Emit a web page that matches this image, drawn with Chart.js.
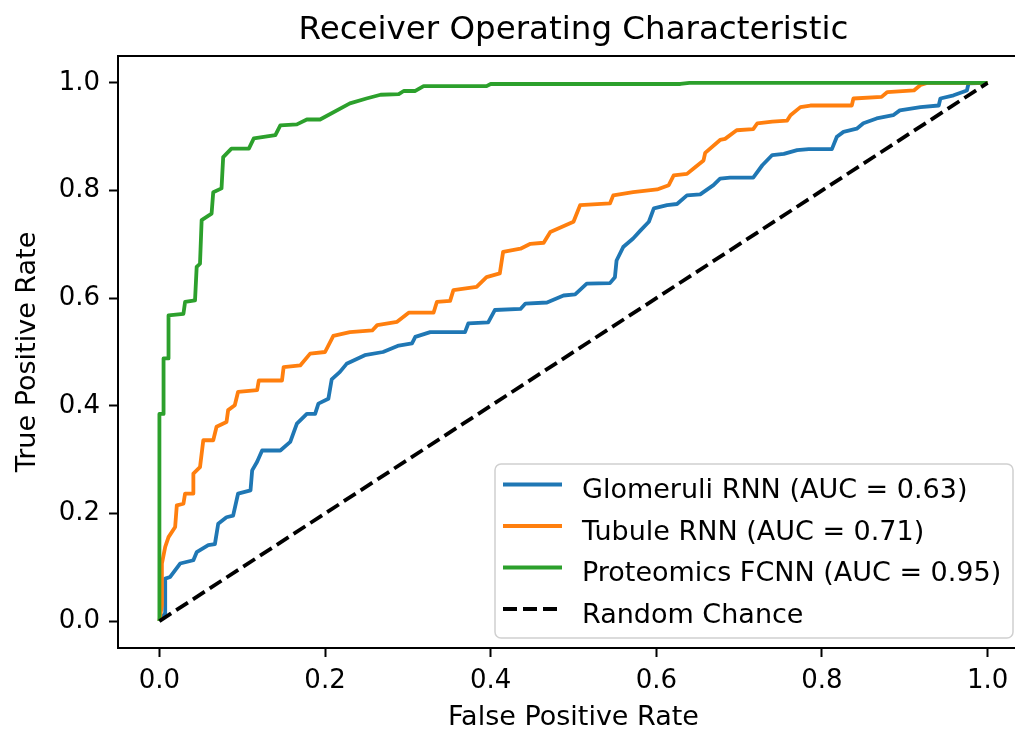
<!DOCTYPE html>
<html>
<head>
<meta charset="utf-8">
<title>Receiver Operating Characteristic</title>
<script src="https://cdn.jsdelivr.net/npm/chart.js@4.4.1/dist/chart.umd.min.js"></script>
<style>
    html, body { margin: 0; padding: 0; background: #fff; overflow: hidden; width: 1015px; height: 729px; }
    #wrap { position: absolute; left: 0; top: 0; width: 1015px; height: 729px; overflow: hidden; }
    canvas { display: block; }
</style>
</head>
<body>
<div id="wrap"><canvas id="chart" width="1146" height="729"></canvas></div>
<script>
// tick labels
const xTicks = [0, 0.2, 0.4, 0.6, 0.8, 1.0];
const yTicks = [0, 0.2, 0.4, 0.6, 0.8, 1.0];

const seriesNames = [
    'Glomeruli RNN (AUC = 0.63)',
    'Tubule RNN (AUC = 0.71)',
    'Proteomics FCNN (AUC = 0.95)',
    'Random Chance'
];

// Glomeruli RNN
const glomFpr = [0, 0.007, 0.007, 0.013, 0.025, 0.041, 0.045, 0.059, 0.067, 0.071, 0.081, 0.089, 0.095, 0.110, 0.112, 0.118, 0.124, 0.146, 0.158, 0.166, 0.178, 0.188, 0.192, 0.204, 0.208, 0.218, 0.226, 0.248, 0.270, 0.289, 0.305, 0.309, 0.327, 0.369, 0.373, 0.397, 0.405, 0.436, 0.442, 0.468, 0.488, 0.502, 0.516, 0.544, 0.550, 0.552, 0.560, 0.572, 0.581, 0.591, 0.597, 0.613, 0.625, 0.637, 0.653, 0.669, 0.677, 0.689, 0.717, 0.728, 0.740, 0.754, 0.770, 0.784, 0.812, 0.818, 0.826, 0.842, 0.850, 0.866, 0.886, 0.894, 0.919, 0.941, 0.943, 0.959, 0.975, 0.977, 1.0];
const glomTpr = [0, 0.015, 0.079, 0.082, 0.107, 0.113, 0.128, 0.141, 0.143, 0.181, 0.193, 0.196, 0.237, 0.243, 0.280, 0.296, 0.317, 0.317, 0.333, 0.367, 0.385, 0.385, 0.404, 0.413, 0.449, 0.463, 0.478, 0.494, 0.500, 0.512, 0.516, 0.528, 0.537, 0.537, 0.553, 0.555, 0.578, 0.580, 0.590, 0.592, 0.605, 0.607, 0.627, 0.628, 0.639, 0.670, 0.695, 0.711, 0.726, 0.742, 0.767, 0.773, 0.775, 0.791, 0.793, 0.810, 0.822, 0.824, 0.824, 0.847, 0.866, 0.868, 0.875, 0.877, 0.877, 0.900, 0.909, 0.915, 0.925, 0.934, 0.940, 0.949, 0.955, 0.958, 0.971, 0.977, 0.986, 0.999, 1.0];

// Tubule RNN
const tubFpr = [0, 0.003, 0.003, 0.007, 0.011, 0.019, 0.021, 0.029, 0.031, 0.041, 0.041, 0.049, 0.053, 0.065, 0.069, 0.081, 0.083, 0.091, 0.095, 0.118, 0.120, 0.148, 0.150, 0.170, 0.182, 0.200, 0.210, 0.230, 0.257, 0.263, 0.287, 0.301, 0.331, 0.335, 0.351, 0.355, 0.383, 0.395, 0.411, 0.415, 0.436, 0.448, 0.464, 0.472, 0.500, 0.508, 0.544, 0.548, 0.572, 0.601, 0.615, 0.621, 0.637, 0.645, 0.657, 0.659, 0.677, 0.683, 0.697, 0.717, 0.722, 0.740, 0.758, 0.762, 0.774, 0.786, 0.836, 0.838, 0.872, 0.879, 0.911, 0.919, 0.927, 1.0];
const tubTpr = [0, 0.03, 0.107, 0.138, 0.156, 0.175, 0.215, 0.218, 0.237, 0.237, 0.274, 0.286, 0.336, 0.336, 0.361, 0.370, 0.392, 0.401, 0.426, 0.429, 0.447, 0.447, 0.472, 0.475, 0.497, 0.500, 0.530, 0.537, 0.540, 0.550, 0.556, 0.573, 0.573, 0.593, 0.595, 0.615, 0.621, 0.639, 0.646, 0.686, 0.692, 0.701, 0.703, 0.723, 0.742, 0.773, 0.776, 0.791, 0.797, 0.802, 0.810, 0.828, 0.831, 0.841, 0.856, 0.870, 0.894, 0.896, 0.912, 0.914, 0.925, 0.928, 0.930, 0.940, 0.955, 0.958, 0.958, 0.971, 0.974, 0.983, 0.986, 0.996, 1.0, 1.0];

// Proteomics FCNN
const protFpr = [0, 0, 0.005, 0.005, 0.011, 0.011, 0.029, 0.031, 0.043, 0.045, 0.049, 0.051, 0.063, 0.065, 0.075, 0.077, 0.087, 0.108, 0.114, 0.140, 0.146, 0.166, 0.178, 0.194, 0.230, 0.250, 0.267, 0.289, 0.295, 0.309, 0.319, 0.395, 0.400, 0.629, 0.640, 1.0];
const protTpr = [0, 0.385, 0.385, 0.488, 0.488, 0.568, 0.571, 0.593, 0.596, 0.658, 0.664, 0.745, 0.757, 0.797, 0.804, 0.862, 0.878, 0.878, 0.897, 0.903, 0.921, 0.923, 0.932, 0.932, 0.962, 0.971, 0.978, 0.979, 0.985, 0.985, 0.994, 0.994, 0.998, 0.998, 1.0, 1.0];

// Random Chance
const chanceFpr = [0, 1];
const chanceTpr = [0, 1];

const toPoints = (xs, ys) => xs.map((x, i) => ({ x: x, y: ys[i] }));

const FONT = 'DejaVu Sans';

// left/top/bottom spines + legend box in the lower right, like matplotlib
// (the right spine lies outside the cropped picture)
const frameAndLegend = {
    id: 'frameAndLegend',
    afterDatasetsDraw(chart) {
        const ctx = chart.ctx;
        const a = chart.chartArea;
        ctx.save();
        ctx.strokeStyle = '#000';
        ctx.lineWidth = 2;
        ctx.beginPath();
        ctx.moveTo(a.right + 1, a.top);
        ctx.lineTo(a.left, a.top);
        ctx.lineTo(a.left, a.bottom);
        ctx.lineTo(a.right + 1, a.bottom);
        ctx.stroke();

        const w = 518, h = 174;
        const bx = a.right - 16 - w;
        const by = a.bottom - 10 - h;
        ctx.beginPath();
        ctx.roundRect(bx, by, w, h, 6);
        ctx.fillStyle = 'rgba(255,255,255,0.8)';
        ctx.fill();
        ctx.strokeStyle = '#d0d0d0';
        ctx.lineWidth = 1.5;
        ctx.stroke();

        chart.data.datasets.forEach((ds, i) => {
            const base = by + 34 + i * 41.5;
            const hy = base - 13.5;
            ctx.beginPath();
            ctx.setLineDash(ds.borderDash || []);
            ctx.lineWidth = ds.borderWidth;
            ctx.strokeStyle = ds.borderColor;
            ctx.lineCap = 'butt';
            ctx.moveTo(bx + 8, hy);
            ctx.lineTo(bx + 67, hy);
            ctx.stroke();
            ctx.setLineDash([]);
            ctx.fillStyle = '#000';
            ctx.font = '27px "' + FONT + '"';
            ctx.textBaseline = 'alphabetic';
            ctx.textAlign = 'left';
            ctx.fillText(ds.label, bx + 87, base);
        });
        ctx.restore();
    }
};

const lineStyle = {
    showLine: true,
    pointRadius: 0,
    borderWidth: 3.8,
    tension: 0,
    fill: false,
    borderJoinStyle: 'round'
};

const ctx = document.getElementById('chart');
const chart = new Chart(ctx, {
    type: 'scatter',
    data: {
        datasets: [
            Object.assign({ label: seriesNames[0], data: toPoints(glomFpr, glomTpr), borderColor: '#1f77b4', order: 4 }, lineStyle),
            Object.assign({ label: seriesNames[1], data: toPoints(tubFpr, tubTpr), borderColor: '#ff7f0e', order: 3 }, lineStyle),
            Object.assign({ label: seriesNames[2], data: toPoints(protFpr, protTpr), borderColor: '#2ca02c', order: 2 }, lineStyle),
            Object.assign({ label: seriesNames[3], data: toPoints(chanceFpr, chanceTpr), borderColor: '#000000', borderDash: [14, 6], order: 1 }, lineStyle)
        ]
    },
    options: {
        responsive: false,
        animation: false,
        devicePixelRatio: 1,
        // the canvas is wider than the window: the right spine falls outside the picture
        layout: { padding: { left: 0, right: 117, top: 0, bottom: 0 } },
        plugins: {
            legend: { display: false },
            tooltip: { enabled: false },
            title: {
                display: true,
                fullSize: false,
                text: 'Receiver Operating Characteristic',
                color: '#000',
                font: { family: FONT, size: 32.5, weight: 'normal' },
                padding: { top: 11.5, bottom: 5.5 }
            }
        },
        scales: {
            x: {
                type: 'linear',
                min: -0.05,
                max: 1.05,
                afterBuildTicks: (s) => { s.ticks = xTicks.map(v => ({ value: v })); },
                afterFit: (s) => { s.height = 81; s.paddingLeft = 0; s.paddingRight = 0; },
                border: { display: false },
                grid: { drawOnChartArea: false, drawTicks: true, tickLength: 9, tickWidth: 2, tickColor: '#000' },
                ticks: {
                    color: '#000',
                    font: { family: FONT, size: 26 },
                    padding: 9,
                    maxRotation: 0,
                    autoSkip: false,
                    callback: (value) => value.toFixed(1)
                },
                title: {
                    display: true,
                    text: 'False Positive Rate',
                    color: '#000',
                    font: { family: FONT, size: 27 },
                    padding: { top: 0, bottom: -5 }
                }
            },
            y: {
                type: 'linear',
                min: -0.05,
                max: 1.05,
                afterBuildTicks: (s) => { s.ticks = yTicks.map(v => ({ value: v })); },
                afterFit: (s) => { s.width = 118; },
                border: { display: false },
                grid: { drawOnChartArea: false, drawTicks: true, tickLength: 9, tickWidth: 2, tickColor: '#000' },
                ticks: {
                    color: '#000',
                    font: { family: FONT, size: 26 },
                    padding: 9,
                    autoSkip: false,
                    callback: (value) => value.toFixed(1)
                },
                title: {
                    display: true,
                    text: 'True Positive Rate',
                    color: '#000',
                    font: { family: FONT, size: 27 },
                    padding: { top: 12, bottom: 0 }
                }
            }
        }
    },
    plugins: [frameAndLegend]
});
</script>
</body>
</html>
